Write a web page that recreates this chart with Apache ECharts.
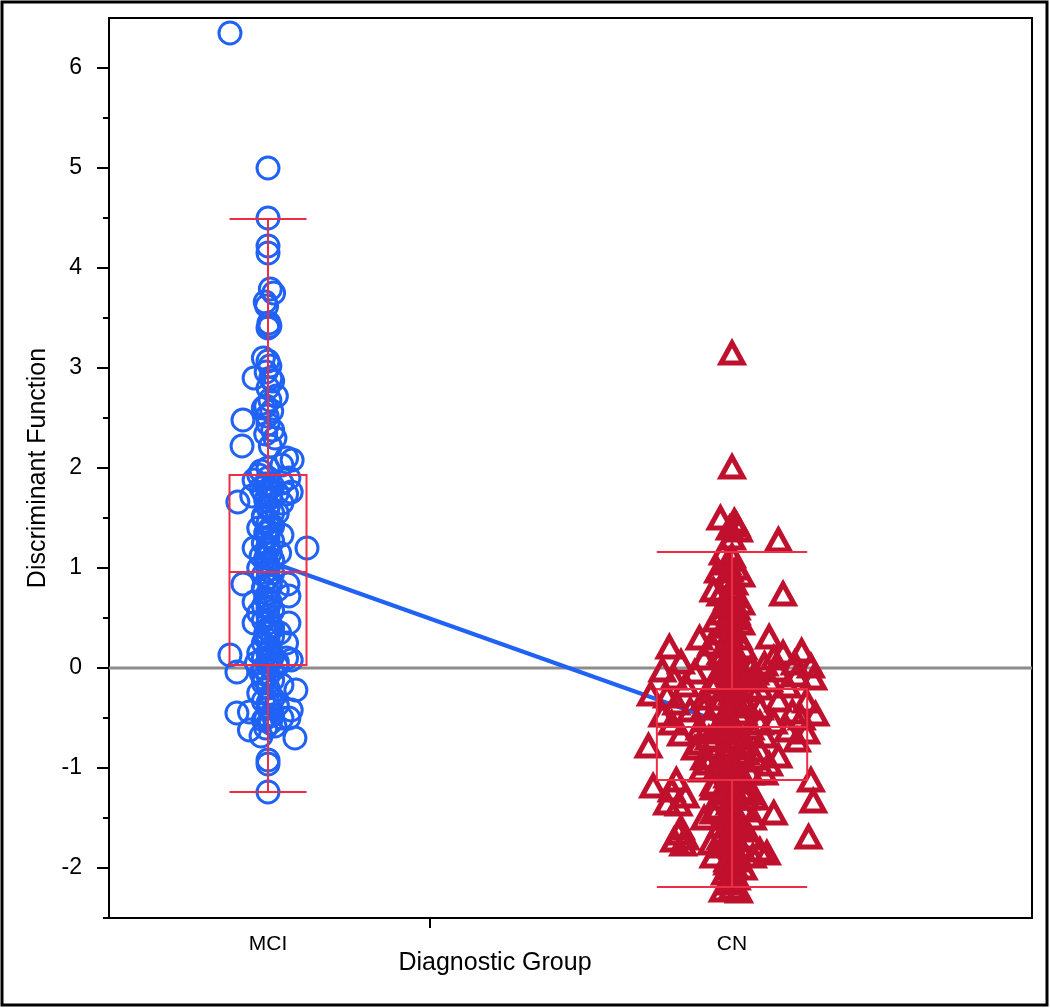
<!DOCTYPE html>
<html>
<head>
<meta charset="utf-8">
<script src="https://cdn.jsdelivr.net/npm/echarts@6/dist/echarts.min.js"></script>
<style>
html,body{margin:0;padding:0;background:#fff;}
#chart{width:1050px;height:1008px;}
</style>
</head>
<body>
<div id="chart"></div>
<script>
// ---- Data ----
const groupNames = ['MCI', 'CN'];
const groupPos = [1, 2];
const yTicks = [-2, -1, 0, 1, 2, 3, 4, 5, 6];
const yMinorTicks = [-2.5, -1.5, -0.5, 0.5, 1.5, 2.5, 3.5, 4.5, 5.5];
// box stats: [min, Q1, median, Q3, max]
const mciStats = [-1.24, 0.03, 0.96, 1.93, 4.49];
const cnStats = [-2.19, -1.12, -0.59, -0.21, 1.16];
const groupMeans = [1.07, -0.58];

// [jittered group position, discriminant value]
const mciPoints = [
  [0.918, 6.35], [1.0, 5.0], [1.0, 4.5], [1.0, 4.22], [1.0, 4.15],
  [1.005, 3.79], [1.012, 3.75], [0.994, 3.66], [0.997, 3.62], [1.002, 3.45], [1.004, 3.42],
  [0.99, 3.1], [1.0, 3.07], [1.004, 3.02], [0.996, 2.96], [1.006, 2.9], [0.97, 2.9], [1.01, 2.87],
  [1.018, 2.72], [1.004, 2.68], [0.995, 2.62], [1.008, 2.57], [0.998, 2.52], [0.946, 2.48],
  [1.0, 2.44], [1.01, 2.38], [0.995, 2.34], [0.944, 2.22], [1.005, 2.22],
  [1.04, 2.1], [1.052, 2.08], [1.03, 2.03], [1.0, 2.0], [0.985, 1.97], [0.98, 1.93],
  [0.97, 1.88], [1.045, 1.9], [1.03, 1.85], [1.01, 1.82], [1.0, 1.78], [0.99, 1.76], [1.02, 1.75],
  [1.04, 1.74], [1.05, 1.76], [0.965, 1.72], [1.005, 1.7], [0.995, 1.68], [0.935, 1.66], [1.03, 1.65], [1.0, 1.6],
  [1.01, 1.55], [0.99, 1.5], [1.0, 1.45], [1.005, 1.4], [1.0, 1.37], [0.995, 1.35], [1.03, 1.33],
  [1.0, 1.3], [1.01, 1.27], [0.99, 1.25], [0.97, 1.2], [1.0, 1.18], [1.084, 1.2], [1.005, 1.15],
  [0.985, 1.12], [0.995, 1.1], [1.01, 1.08], [1.0, 1.03],
  [1.0, 0.98], [1.01, 0.95], [0.99, 0.93], [0.946, 0.84], [1.0, 0.9], [1.005, 0.86], [1.043, 0.84],
  [0.99, 0.8], [1.0, 0.75], [1.045, 0.72], [0.995, 0.7], [1.005, 0.66], [0.97, 0.66], [1.0, 0.6],
  [1.01, 0.57], [1.045, 0.45], [1.0, 0.52], [0.99, 0.48], [0.97, 0.45], [1.005, 0.42], [1.0, 0.38],
  [0.995, 0.35], [1.01, 0.32], [1.0, 0.28], [0.99, 0.25], [1.005, 0.2], [1.04, 0.25], [1.0, 0.15],
  [1.01, 0.12], [0.99, 0.1], [0.918, 0.13], [1.04, 0.1], [1.05, 0.08], [1.02, 0.06], [0.975, 0.05],
  [1.0, 0.03], [0.99, 0.0], [1.01, -0.02],
  [0.933, -0.04], [0.985, -0.05], [1.0, -0.08], [1.01, -0.12], [0.99, -0.15], [1.03, -0.17],
  [1.0, -0.2], [1.06, -0.22], [0.98, -0.25], [1.005, -0.28], [0.99, -0.33], [1.02, -0.37],
  [1.0, -0.4], [1.05, -0.42], [0.933, -0.45], [0.96, -0.44], [1.01, -0.47], [1.03, -0.5],
  [0.99, -0.52], [1.045, -0.5], [0.96, -0.62], [0.995, -0.6], [1.015, -0.58], [1.058, -0.7],
  [0.985, -0.68], [1.0, -0.92], [1.0, -0.96], [1.0, -1.24],
  [1.0, 1.9], [0.995, 1.84], [1.005, 1.72], [1.0, 1.62], [0.99, 1.52], [1.01, 1.42], [1.0, 1.22],
  [0.995, 1.05], [1.005, 0.82], [1.0, 0.68], [0.99, 0.62], [1.01, 0.4], [1.0, 0.45], [0.995, 0.3],
  [1.005, 0.18], [1.0, 0.07], [0.99, -0.1], [1.01, -0.3], [1.0, -0.35], [0.995, -0.5], [1.005, -0.55],
  [1.02, 0.02], [0.98, 0.15], [1.025, 0.35], [0.98, 0.55], [1.02, 0.78], [0.98, 1.0], [1.025, 1.15],
  [0.98, 1.4], [1.02, 1.55], [0.985, 1.8], [1.015, 2.3], [0.99, 2.6], [1.0, 2.8], [1.0, 3.4]
];

const cnPoints = [
  [2.0, 3.15], [2.0, 2.01],
  [1.975, 1.5], [2.005, 1.47], [2.01, 1.43], [1.995, 1.4], [2.015, 1.38], [2.1, 1.28],
  [1.98, 1.15], [2.0, 1.12], [1.99, 1.05], [2.01, 1.0], [1.97, 0.97], [2.02, 0.93], [1.995, 0.9],
  [2.11, 0.74], [1.96, 0.78], [1.975, 0.74], [2.005, 0.72], [1.985, 0.62], [2.01, 0.6], [1.995, 0.55],
  [1.965, 0.48], [2.02, 0.45], [1.99, 0.42], [2.0, 0.38], [1.975, 0.35], [2.08, 0.31], [2.015, 0.3],
  [1.99, 0.27], [1.955, 0.24], [2.0, 0.22], [1.865, 0.21], [2.025, 0.2], [2.15, 0.17], [2.11, 0.15],
  [1.98, 0.14], [2.0, 0.12], [1.94, 0.1], [2.09, 0.1], [1.89, 0.06], [2.135, 0.05], [2.07, 0.04],
  [2.01, 0.03], [1.985, 0.02], [2.17, 0.02], [1.85, -0.02], [2.1, -0.02], [1.92, -0.04], [2.05, -0.05],
  [1.995, -0.06], [2.14, -0.07], [2.175, -0.1], [1.875, -0.1], [2.02, -0.12], [2.08, -0.12],
  [1.96, -0.14], [2.005, -0.16], [1.9, -0.17], [2.12, -0.18], [1.985, -0.2], [2.04, -0.22],
  [1.825, -0.26], [1.86, -0.28], [1.94, -0.3], [2.0, -0.3], [2.1, -0.32], [2.16, -0.33], [1.88, -0.35],
  [2.03, -0.36], [1.97, -0.38], [2.06, -0.4], [1.91, -0.42], [2.13, -0.44], [2.18, -0.46], [1.99, -0.46],
  [1.85, -0.47], [2.02, -0.5], [2.15, -0.5], [1.95, -0.52], [2.09, -0.54], [1.87, -0.55], [2.0, -0.56],
  [2.04, -0.6], [1.93, -0.6], [2.12, -0.62], [2.16, -0.64], [1.98, -0.64], [1.89, -0.66], [2.07, -0.68],
  [2.01, -0.7], [1.96, -0.72], [1.82, -0.78], [2.03, -0.76], [2.14, -0.72], [1.92, -0.8], [2.06, -0.82],
  [1.99, -0.84], [2.1, -0.88], [1.94, -0.9], [2.02, -0.92], [2.08, -0.96], [1.97, -0.98], [2.005, -1.0],
  [1.935, -1.02], [2.04, -1.05], [1.99, -1.08], [2.17, -1.12], [1.88, -1.12], [2.02, -1.14], [1.96, -1.16],
  [1.83, -1.18], [1.87, -1.22], [2.005, -1.22], [2.035, -1.25], [1.9, -1.28], [1.97, -1.3], [2.175, -1.33],
  [1.86, -1.35], [1.885, -1.36], [2.0, -1.38], [2.025, -1.42], [1.96, -1.44], [2.09, -1.45], [1.99, -1.5],
  [2.01, -1.55], [1.975, -1.58], [1.89, -1.6], [1.885, -1.65], [2.03, -1.62], [1.9, -1.7], [2.165, -1.69],
  [1.875, -1.72], [2.0, -1.72], [1.895, -1.76], [1.98, -1.78], [2.02, -1.8], [2.06, -1.82], [2.075, -1.85],
  [2.045, -1.88], [1.96, -1.88], [1.99, -1.92], [2.005, -1.98], [1.985, -2.05], [2.01, -2.1], [1.995, -2.15],
  [2.0, -2.2], [1.98, -2.22], [2.015, -2.23],
  [2.0, 0.8], [1.995, 0.65], [2.005, 0.5], [1.99, 0.1], [2.01, -0.1], [2.0, -0.25], [1.99, -0.45],
  [2.01, -0.65], [2.0, -0.8], [1.995, -0.95], [2.0, -1.1], [2.005, -1.3], [1.995, -1.45], [2.0, -1.65],
  [2.01, -1.85], [1.98, -0.5], [2.02, -0.3], [1.98, -1.25], [2.02, -1.6], [1.97, -1.0], [2.03, -0.85],
  [1.96, -0.2], [2.04, 0.0], [1.95, -0.7], [2.05, -1.3], [1.94, -1.5], [2.06, -0.55], [1.93, 0.3],
  [2.0, -2.0], [1.99, -1.95],
  [2.0, 1.3], [1.995, 0.98], [2.005, 0.85], [1.99, 0.7], [2.01, 0.55], [2.0, 0.42], [1.995, 0.33],
  [2.005, 0.18], [2.0, 0.05], [1.99, -0.02], [2.01, -0.18], [2.0, -0.38], [1.995, -0.52], [2.005, -0.6],
  [2.0, -0.72], [1.99, -0.88], [2.01, -1.03], [2.0, -1.18], [1.995, -1.35], [2.005, -1.5], [2.0, -1.58],
  [1.99, -1.75], [2.01, -1.92], [2.0, -2.08], [1.975, -0.3], [2.025, -0.45], [1.97, -0.6], [2.03, -0.75],
  [1.975, -0.9], [2.025, -1.1], [1.97, -1.4], [2.03, -1.3], [1.975, -1.7], [2.025, -2.0], [1.98, 0.55],
  [2.02, 0.65], [1.975, 0.15], [2.025, -0.05], [1.96, -1.2], [2.04, -1.7], [2.05, -0.9], [1.95, -0.95],
  [1.94, -0.4], [2.06, -0.2], [1.93, -0.75], [2.07, -1.05], [1.955, -1.75], [2.045, -1.5]
];

// ---- Layout / style ----
const X_MIN = 0.6573, X_MAX = 2.6465;
const boxHalf = [0.083, 0.162];
const BOX_RED = '#ee2c44';
const BLUE = '#1f62f5';
const CRIMSON = '#bf102d';
const FONT = 'Liberation Sans, Arial, sans-serif';

const boxData = [
  [groupPos[0]].concat(mciStats),
  [groupPos[1]].concat(cnStats)
];

const chart = echarts.init(document.getElementById('chart'), null, {renderer: 'canvas'});

const option = {
  animation: false,
  backgroundColor: '#fff',
  grid: {left: 109, top: 18, right: 18, bottom: 90, show: true, borderColor: '#000', borderWidth: 2, backgroundColor: 'transparent'},
  xAxis: [{
    type: 'value', min: X_MIN, max: X_MAX,
    splitLine: {show: false},
    axisLine: {show: true, onZero: false, lineStyle: {color: '#000', width: 2}},
    axisTick: {show: true, customValues: [1.349], length: 10, lineStyle: {color: '#000', width: 2}},
    axisLabel: {
      customValues: groupPos, margin: 16, fontSize: 21, color: '#000', fontFamily: FONT,
      formatter: function (v) { const i = groupPos.indexOf(Math.round(v)); return i >= 0 ? groupNames[i] : ''; }
    }
  }],
  yAxis: [{
    type: 'value', min: -2.5, max: 6.5,
    splitLine: {show: false},
    axisLine: {show: true, onZero: false, lineStyle: {color: '#000', width: 2}},
    axisTick: {show: true, customValues: yTicks, length: 12, lineStyle: {color: '#000', width: 2}},
    axisLabel: {customValues: yTicks, margin: 27, fontSize: 23, color: '#000', fontFamily: FONT},
    name: 'Discriminant Function', nameLocation: 'middle', nameGap: 58, nameRotate: 90,
    nameTextStyle: {fontSize: 25, color: '#000', fontFamily: FONT}
  }, {
    type: 'value', min: -2.5, max: 6.5, position: 'left',
    splitLine: {show: false},
    axisLine: {show: false},
    axisTick: {show: true, customValues: yMinorTicks, length: 6, lineStyle: {color: '#000', width: 2}},
    axisLabel: {show: false}
  }],
  graphic: [
    {type: 'rect', shape: {x: 2, y: 2, width: 1045, height: 1003}, style: {fill: 'none', stroke: '#000', lineWidth: 3}, z: 100},
    {type: 'text', x: 495, y: 963, style: {text: 'Diagnostic Group', fontSize: 25, fill: '#000', fontFamily: FONT, align: 'center', verticalAlign: 'middle'}}
  ],
  series: [
    {
      type: 'line', z: 1, data: [[X_MIN, 0], [X_MAX, 0]], symbol: 'none',
      lineStyle: {color: '#8c8c8c', width: 3}, silent: true
    },
    {
      type: 'scatter', z: 2, data: mciPoints, symbol: 'circle', symbolSize: 22,
      itemStyle: {color: 'rgba(255,255,255,0)', borderColor: BLUE, borderWidth: 3, opacity: 1},
      silent: true
    },
    {
      type: 'line', z: 3, data: [[groupPos[0], groupMeans[0]], [groupPos[1], groupMeans[1]]], symbol: 'none',
      lineStyle: {color: BLUE, width: 4}, silent: true
    },
    {
      type: 'scatter', z: 4, data: cnPoints, symbol: 'triangle', symbolSize: [22, 20],
      itemStyle: {color: 'rgba(255,255,255,0)', borderColor: CRIMSON, borderWidth: 5, opacity: 1},
      silent: true
    },
    {
      type: 'custom', z: 5, data: boxData, silent: true,
      encode: {x: 0, y: [1, 2, 3, 4, 5]},
      renderItem: function (params, api) {
        const i = params.dataIndex;
        const x = api.value(0), hw = boxHalf[i];
        const mn = api.value(1), q1 = api.value(2), md = api.value(3), q3 = api.value(4), mx = api.value(5);
        const L = function (y) { return api.coord([x - hw, y]); };
        const R = function (y) { return api.coord([x + hw, y]); };
        const C = function (y) { return api.coord([x, y]); };
        const st = {stroke: BOX_RED, lineWidth: 2, fill: 'none'};
        const line = function (a, b) { return {type: 'line', shape: {x1: a[0], y1: a[1], x2: b[0], y2: b[1]}, style: st}; };
        const tl = L(q3), br = R(q1);
        return {
          type: 'group',
          children: [
            {type: 'rect', shape: {x: tl[0], y: tl[1], width: br[0] - tl[0], height: br[1] - tl[1]}, style: st},
            line(L(md), R(md)),
            line(C(q3), C(mx)),
            line(C(q1), C(mn)),
            line(L(mx), R(mx)),
            line(L(mn), R(mn))
          ]
        };
      }
    }
  ]
};
chart.setOption(option);
</script>
</body>
</html>
